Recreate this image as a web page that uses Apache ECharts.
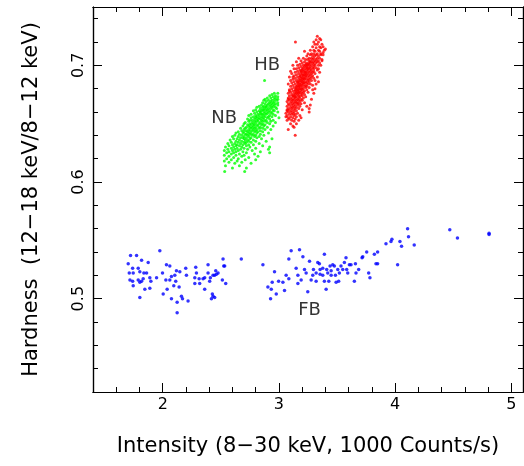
<!DOCTYPE html>
<html><head><meta charset="utf-8">
<script src="https://cdn.jsdelivr.net/npm/echarts@6/dist/echarts.min.js"></script>
<style>html,body{margin:0;padding:0;background:#fff}#c{width:524px;height:466px}</style>
</head><body><div id="c"></div>
<script>
const xMajorTicks = [2, 3, 4, 5];
const xMinorTicks = [1.6, 1.8, 2.2, 2.4, 2.6, 2.8, 3.2, 3.4, 3.6, 3.8, 4.2, 4.4, 4.6, 4.8];
const yMajorTicks = [0.5, 0.6, 0.7];
const yMinorTicks = [0.44, 0.46, 0.48, 0.52, 0.54, 0.56, 0.58, 0.62, 0.64, 0.66, 0.68, 0.72, 0.74];
const xTitle = 'Intensity (8\u221230 keV, 1000 Counts/s)';
const yTitle = 'Hardness  (12\u221218 keV/8\u221212 keV)';
const groupLabels = [[2.898, 0.700, 'HB'], [2.529, 0.655, 'NB'], [3.263, 0.490, 'FB']];

const hbPoints = [
[3.33,0.725],[3.35,0.723],[3.32,0.722],[3.36,0.722],[3.142,0.720],[3.34,0.720],[3.30,0.720],
[3.37,0.718],[3.33,0.718],[3.31,0.718],[3.35,0.716],[3.29,0.716],[3.38,0.716],[3.32,0.715],[3.36,0.715],
[3.27,0.713],[3.34,0.713],[3.30,0.713],[3.39,0.713],[3.31,0.712],[3.35,0.712],[3.22,0.712],
[3.28,0.710],[3.33,0.710],[3.36,0.710],[3.25,0.710],[3.30,0.710],[3.32,0.709],[3.27,0.709],[3.38,0.709],
[3.24,0.708],[3.29,0.708],[3.34,0.708],[3.31,0.708],
[3.26,0.706],[3.30,0.706],[3.35,0.706],[3.21,0.706],[3.28,0.706],[3.33,0.706],
[3.23,0.705],[3.29,0.705],[3.32,0.705],[3.37,0.705],[3.25,0.705],
[3.27,0.704],[3.31,0.704],[3.19,0.704],[3.34,0.704],
[3.22,0.703],[3.26,0.703],[3.30,0.703],[3.33,0.703],[3.28,0.703],
[3.20,0.702],[3.24,0.702],[3.29,0.702],[3.32,0.702],[3.35,0.702],[3.27,0.702],
[3.18,0.701],[3.23,0.701],[3.26,0.701],[3.30,0.701],[3.25,0.701],
[3.21,0.700],[3.25,0.700],[3.28,0.700],[3.31,0.700],[3.34,0.700],[3.16,0.700],[3.23,0.700],
[3.19,0.699],[3.24,0.699],[3.27,0.699],[3.30,0.699],[3.22,0.699],
[3.17,0.698],[3.21,0.698],[3.26,0.698],[3.29,0.698],[3.32,0.698],[3.24,0.698],
[3.20,0.697],[3.23,0.697],[3.27,0.697],[3.30,0.697],[3.15,0.697],[3.25,0.697],
[3.18,0.696],[3.22,0.696],[3.25,0.696],[3.28,0.696],[3.33,0.696],[3.20,0.696],
[3.16,0.695],[3.21,0.695],[3.24,0.695],[3.27,0.695],[3.30,0.695],[3.19,0.695],
[3.19,0.694],[3.23,0.694],[3.26,0.694],[3.29,0.694],[3.14,0.694],[3.22,0.694],
[3.17,0.693],[3.20,0.693],[3.25,0.693],[3.28,0.693],[3.31,0.693],[3.23,0.693],
[3.15,0.692],[3.19,0.692],[3.22,0.692],[3.24,0.692],[3.27,0.692],[3.21,0.692],
[3.18,0.691],[3.21,0.691],[3.26,0.691],[3.29,0.691],[3.13,0.691],[3.23,0.691],
[3.16,0.690],[3.20,0.690],[3.23,0.690],[3.25,0.690],[3.28,0.690],[3.18,0.690],
[3.14,0.689],[3.19,0.689],[3.22,0.689],[3.27,0.689],[3.30,0.689],[3.21,0.689],
[3.17,0.688],[3.20,0.688],[3.24,0.688],[3.26,0.688],[3.12,0.688],[3.22,0.688],
[3.15,0.687],[3.18,0.687],[3.21,0.687],[3.25,0.687],[3.28,0.687],[3.19,0.687],
[3.13,0.686],[3.17,0.686],[3.20,0.686],[3.23,0.686],[3.26,0.686],[3.16,0.686],
[3.16,0.685],[3.19,0.685],[3.22,0.685],[3.24,0.685],[3.11,0.685],[3.21,0.685],
[3.14,0.684],[3.18,0.684],[3.21,0.684],[3.25,0.684],[3.27,0.684],[3.17,0.684],
[3.12,0.683],[3.16,0.683],[3.19,0.683],[3.23,0.683],[3.20,0.683],
[3.15,0.682],[3.18,0.682],[3.22,0.682],[3.24,0.682],[3.10,0.682],[3.17,0.682],
[3.13,0.681],[3.17,0.681],[3.20,0.681],[3.23,0.681],[3.26,0.681],[3.15,0.681],
[3.11,0.680],[3.15,0.680],[3.19,0.680],[3.21,0.680],[3.18,0.680],
[3.14,0.679],[3.17,0.679],[3.20,0.679],[3.24,0.679],[3.09,0.679],[3.16,0.679],
[3.12,0.678],[3.16,0.678],[3.19,0.678],[3.22,0.678],[3.14,0.678],
[3.10,0.677],[3.15,0.677],[3.18,0.677],[3.21,0.677],[3.25,0.677],[3.17,0.677],
[3.13,0.676],[3.17,0.676],[3.20,0.676],[3.08,0.676],[3.15,0.676],
[3.11,0.675],[3.14,0.675],[3.19,0.675],[3.22,0.675],[3.16,0.675],
[3.09,0.674],[3.13,0.674],[3.17,0.674],[3.20,0.674],[3.12,0.674],
[3.12,0.673],[3.15,0.673],[3.18,0.673],[3.23,0.673],[3.14,0.673],
[3.10,0.672],[3.14,0.672],[3.17,0.672],[3.21,0.672],[3.08,0.672],
[3.13,0.671],[3.16,0.671],[3.19,0.671],[3.11,0.671],
[3.09,0.670],[3.12,0.670],[3.15,0.670],[3.20,0.670],[3.17,0.670],
[3.11,0.669],[3.14,0.669],[3.18,0.669],[3.07,0.669],
[3.10,0.668],[3.13,0.668],[3.16,0.668],[3.22,0.668],[3.15,0.668],
[3.08,0.667],[3.12,0.667],[3.17,0.667],[3.19,0.667],
[3.11,0.666],[3.14,0.666],[3.16,0.666],[3.09,0.666],
[3.07,0.665],[3.13,0.665],[3.18,0.665],[3.24,0.665],
[3.10,0.664],[3.12,0.664],[3.15,0.664],
[3.08,0.663],[3.14,0.663],[3.17,0.663],[3.11,0.663],
[3.09,0.662],[3.13,0.662],[3.20,0.662],
[3.07,0.661],[3.11,0.661],[3.15,0.661],
[3.10,0.660],[3.13,0.660],[3.26,0.660],[3.08,0.660],
[3.12,0.659],[3.16,0.659],[3.06,0.659],
[3.09,0.658],[3.11,0.658],[3.14,0.658],
[3.07,0.657],[3.13,0.657],[3.18,0.657],
[3.06,0.656],[3.10,0.656],[3.15,0.656],
[3.12,0.655],[3.19,0.655],[3.08,0.655],
[3.09,0.654],[3.14,0.654],
[3.11,0.653],[3.17,0.653],[3.07,0.653],
[3.13,0.652],[3.10,0.650],[3.15,0.650],
[3.12,0.648],[3.13,0.647],[3.08,0.645],[3.14,0.640],
[3.09,0.690],[3.10,0.695],[3.12,0.700],[3.08,0.684],[3.09,0.678],[3.08,0.671],[3.07,0.662],
[3.33,0.690],[3.35,0.694],[3.36,0.700],[3.37,0.704],[3.34,0.686],[3.31,0.680],[3.30,0.676],
[3.28,0.671],[3.27,0.666],[3.26,0.663],[3.32,0.684],[3.29,0.679],[3.38,0.711],[3.40,0.714],
[3.36,0.709],[3.11,0.693],[3.13,0.697],[3.15,0.703],[3.17,0.706],[3.29,0.683],[3.31,0.687],
[3.34,0.697],[3.10,0.687],[3.12,0.690]
];

const nbPoints = [
[2.876,0.687],
[2.99,0.676],[2.96,0.676],[2.94,0.675],[2.97,0.674],[2.92,0.674],[2.95,0.673],[2.99,0.673],
[2.90,0.672],[2.93,0.672],[2.97,0.672],[2.96,0.671],[2.88,0.671],[2.99,0.671],
[2.91,0.670],[2.94,0.670],[2.98,0.670],[2.87,0.670],[2.89,0.669],[2.93,0.669],[2.96,0.669],
[2.86,0.668],[2.92,0.668],[2.95,0.668],[2.99,0.668],[2.88,0.667],[2.91,0.667],[2.94,0.667],[2.97,0.667],
[2.85,0.666],[2.90,0.666],[2.93,0.666],[2.96,0.666],[2.99,0.666],
[2.83,0.665],[2.87,0.665],[2.92,0.665],[2.95,0.665],[2.89,0.665],
[2.86,0.664],[2.89,0.664],[2.94,0.664],[2.97,0.664],[2.81,0.664],
[2.84,0.663],[2.88,0.663],[2.91,0.663],[2.93,0.663],[2.98,0.663],
[2.80,0.662],[2.86,0.662],[2.90,0.662],[2.95,0.662],[2.87,0.662],
[2.83,0.661],[2.85,0.661],[2.89,0.661],[2.92,0.661],[2.96,0.661],[2.78,0.661],
[2.81,0.660],[2.87,0.660],[2.91,0.660],[2.94,0.660],[2.99,0.660],[2.84,0.660],
[2.79,0.659],[2.84,0.659],[2.88,0.659],[2.90,0.659],[2.93,0.659],
[2.76,0.658],[2.82,0.658],[2.86,0.658],[2.89,0.658],[2.95,0.658],[2.85,0.658],
[2.80,0.657],[2.83,0.657],[2.87,0.657],[2.92,0.657],[2.97,0.657],[2.74,0.657],
[2.78,0.656],[2.81,0.656],[2.85,0.656],[2.88,0.656],[2.91,0.656],[2.94,0.656],
[2.76,0.655],[2.83,0.655],[2.86,0.655],[2.90,0.655],[3.00,0.655],[2.80,0.655],
[2.73,0.654],[2.79,0.654],[2.84,0.654],[2.87,0.654],[2.92,0.654],[2.82,0.654],
[2.77,0.653],[2.81,0.653],[2.85,0.653],[2.89,0.653],[2.95,0.653],[2.75,0.653],
[2.74,0.652],[2.79,0.652],[2.82,0.652],[2.86,0.652],[2.88,0.652],[2.93,0.652],
[2.71,0.651],[2.77,0.651],[2.80,0.651],[2.84,0.651],[2.90,0.651],[2.97,0.651],
[2.75,0.650],[2.78,0.650],[2.83,0.650],[2.86,0.650],[2.92,0.650],[2.70,0.650],
[2.73,0.649],[2.76,0.649],[2.81,0.649],[2.85,0.649],[2.88,0.649],[2.79,0.649],
[2.69,0.648],[2.74,0.648],[2.78,0.648],[2.82,0.648],[2.87,0.648],[2.95,0.648],
[2.72,0.647],[2.77,0.647],[2.80,0.647],[2.84,0.647],[2.90,0.647],[2.75,0.647],
[2.67,0.646],[2.71,0.646],[2.76,0.646],[2.79,0.646],[2.83,0.646],[2.86,0.646],
[2.70,0.645],[2.74,0.645],[2.78,0.645],[2.81,0.645],[2.88,0.645],[2.93,0.645],
[2.68,0.644],[2.72,0.644],[2.77,0.644],[2.80,0.644],[2.84,0.644],[2.75,0.644],
[2.65,0.643],[2.70,0.643],[2.73,0.643],[2.79,0.643],[2.82,0.643],[2.86,0.643],
[2.69,0.642],[2.74,0.642],[2.76,0.642],[2.81,0.642],[2.91,0.642],[2.63,0.642],
[2.66,0.641],[2.71,0.641],[2.75,0.641],[2.78,0.641],[2.84,0.641],[2.72,0.641],
[2.62,0.640],[2.68,0.640],[2.73,0.640],[2.77,0.640],[2.80,0.640],[2.87,0.640],
[2.65,0.639],[2.70,0.639],[2.74,0.639],[2.79,0.639],[2.83,0.639],[2.60,0.639],
[2.67,0.638],[2.72,0.638],[2.76,0.638],[2.81,0.638],[2.69,0.638],
[2.61,0.637],[2.64,0.637],[2.70,0.637],[2.75,0.637],[2.85,0.637],[2.94,0.637],
[2.66,0.636],[2.71,0.636],[2.73,0.636],[2.78,0.636],[2.58,0.636],
[2.63,0.635],[2.68,0.635],[2.74,0.635],[2.80,0.635],[2.89,0.635],
[2.59,0.634],[2.65,0.634],[2.70,0.634],[2.76,0.634],[2.72,0.634],
[2.62,0.633],[2.67,0.633],[2.71,0.633],[2.83,0.633],[2.56,0.633],
[2.60,0.632],[2.64,0.632],[2.69,0.632],[2.74,0.632],[2.78,0.632],
[2.57,0.631],[2.66,0.631],[2.72,0.631],[2.86,0.631],[2.63,0.631],
[2.61,0.630],[2.68,0.630],[2.75,0.630],[2.54,0.630],[2.92,0.630],
[2.59,0.629],[2.64,0.629],[2.70,0.629],[2.80,0.629],
[2.56,0.628],[2.62,0.628],[2.67,0.628],[2.73,0.628],[2.91,0.628],
[2.60,0.627],[2.65,0.627],[2.77,0.627],[2.53,0.627],
[2.57,0.626],[2.63,0.626],[2.69,0.626],[2.84,0.626],
[2.55,0.625],[2.61,0.625],[2.72,0.625],[2.92,0.625],
[2.59,0.624],[2.66,0.624],[2.79,0.624],
[2.53,0.623],[2.63,0.623],[2.70,0.623],
[2.57,0.622],[2.68,0.622],[2.82,0.622],
[2.61,0.621],[2.74,0.621],[2.55,0.620],[2.65,0.620],
[2.59,0.619],[2.71,0.619],[2.80,0.619],[2.64,0.618],[2.53,0.618],
[2.57,0.617],[2.68,0.617],[2.62,0.616],[2.76,0.616],
[2.54,0.614],[2.66,0.614],[2.60,0.612],[2.72,0.612],
[2.533,0.609],[2.705,0.609]
];

const fbPoints = [
[1.703,0.530],[1.723,0.537],[1.775,0.537],[1.741,0.526],[1.789,0.526],[1.712,0.522],[1.746,0.522],
[1.818,0.533],[1.875,0.531],[1.803,0.523],[1.838,0.522],[1.861,0.522],[1.718,0.516],[1.741,0.515],
[1.789,0.516],[1.803,0.514],[1.818,0.515],[1.832,0.517],[1.746,0.511],[1.846,0.508],[1.803,0.501],
[1.889,0.509],[1.889,0.518],[1.898,0.515],[1.975,0.541],[1.947,0.518],[1.998,0.522],[2.032,0.529],
[2.061,0.528],[2.027,0.516],[2.061,0.516],[2.075,0.519],[2.104,0.520],[2.118,0.524],[2.147,0.523],
[2.112,0.515],[2.004,0.504],[2.038,0.508],[2.075,0.500],[2.095,0.511],[2.141,0.510],[2.124,0.497],
[2.161,0.502],[2.170,0.500],[2.198,0.526],[2.204,0.520],[2.124,0.488],[2.218,0.498],[2.284,0.527],
[2.290,0.522],[2.276,0.518],[2.313,0.517],[2.276,0.513],[2.318,0.513],[2.347,0.517],[2.361,0.518],
[2.361,0.508],[2.390,0.529],[2.390,0.522],[2.410,0.518],[2.433,0.520],[2.456,0.524],[2.447,0.520],
[2.404,0.515],[2.427,0.504],[2.447,0.501],[2.419,0.500],[2.433,0.502],[2.462,0.521],[2.476,0.522],
[2.513,0.516],[2.519,0.534],[2.525,0.528],[2.533,0.528],[2.542,0.513],[2.676,0.534],
[2.862,0.529],[2.905,0.510],[2.934,0.508],[2.928,0.500],[2.942,0.514],[2.962,0.523],[2.977,0.504],
[2.997,0.515],[3.034,0.514],[3.048,0.507],[3.062,0.520],[3.085,0.517],[3.085,0.534],[3.105,0.541],
[3.148,0.526],[3.163,0.520],[3.163,0.513],[3.177,0.542],[3.191,0.516],[3.206,0.536],[3.220,0.525],
[3.234,0.522],[3.248,0.506],[3.263,0.532],[3.277,0.516],[3.297,0.525],[3.291,0.520],[3.320,0.522],
[3.320,0.515],[3.334,0.531],[3.348,0.530],[3.354,0.525],[3.354,0.521],[3.377,0.526],[3.377,0.520],
[3.391,0.538],[3.391,0.515],[3.406,0.508],[3.411,0.525],[3.420,0.522],[3.429,0.515],[3.440,0.528],
[3.449,0.524],[3.449,0.520],[3.463,0.529],[3.477,0.528],[3.486,0.520],[3.492,0.514],[3.506,0.525],
[3.514,0.515],[3.520,0.522],[3.534,0.528],[3.549,0.525],[3.563,0.531],[3.577,0.535],[3.583,0.525],
[3.592,0.522],[3.606,0.529],[3.620,0.529],[3.649,0.515],[3.658,0.530],[3.663,0.522],[3.686,0.525],
[3.715,0.535],[3.721,0.536],[3.755,0.540],[3.772,0.522],[3.783,0.518],[3.821,0.538],[3.835,0.530],
[3.849,0.530],[3.849,0.540],[3.921,0.547],[3.964,0.549],[3.972,0.551],[4.021,0.529],[4.041,0.549],
[4.055,0.545],[4.107,0.560],[4.115,0.553],[4.164,0.546],[4.470,0.559],[4.536,0.552],[4.808,0.556],
[4.808,0.555]
];

const FONT = 'DejaVu Sans';
function xAxisDef(pos, ticks, len, withLabel) {
  return {
    type: 'value', position: pos, min: 1.4, max: 5.1,
    name: withLabel ? xTitle : '', nameLocation: 'middle', nameGap: 44,
    nameTextStyle: {fontFamily: FONT, fontSize: 21, color: '#000'},
    axisLine: {show: true, onZero: false, lineStyle: {color: '#000', width: 1.2}},
    axisTick: {show: true, inside: true, length: len, customValues: ticks, lineStyle: {color: '#000', width: 1}},
    axisLabel: {show: withLabel, customValues: ticks, margin: 5, fontFamily: FONT, fontSize: 16, color: '#000'},
    splitLine: {show: false}
  };
}
function yAxisDef(pos, ticks, len, withLabel) {
  return {
    type: 'value', position: pos, min: 0.42, max: 0.75,
    name: withLabel ? yTitle : '', nameLocation: 'middle', nameGap: 51,
    nameTextStyle: {fontFamily: FONT, fontSize: 21, color: '#000'},
    axisLine: {show: true, onZero: false, lineStyle: {color: '#000', width: 1.2}},
    axisTick: {show: true, inside: true, length: len, customValues: ticks, lineStyle: {color: '#000', width: 1}},
    axisLabel: {show: withLabel, customValues: ticks, rotate: 90, margin: 6, fontFamily: FONT, fontSize: 16, color: '#000',
      formatter: v => v.toFixed(1)},
    splitLine: {show: false}
  };
}

const chart = echarts.init(document.getElementById('c'), null, {renderer: 'canvas'});
chart.setOption({
  animation: false,
  backgroundColor: '#fff',
  grid: {left: 93, right: 1, top: 7, bottom: 74, containLabel: false},
  xAxis: [
    xAxisDef('bottom', xMajorTicks, 9, true),
    xAxisDef('bottom', xMinorTicks, 5, false),
    xAxisDef('top', xMajorTicks, 9, false),
    xAxisDef('top', xMinorTicks, 5, false)
  ],
  yAxis: [
    yAxisDef('left', yMajorTicks, 9, true),
    yAxisDef('left', yMinorTicks, 5, false),
    yAxisDef('right', yMajorTicks, 9, false),
    yAxisDef('right', yMinorTicks, 5, false)
  ],
  series: [
    {type: 'scatter', name: 'FB', data: fbPoints, symbol: 'circle', symbolSize: 3.5, itemStyle: {color: '#0000ff'}, silent: true},
    {type: 'scatter', name: 'NB', data: nbPoints, symbol: 'circle', symbolSize: 3, itemStyle: {color: '#00ff00'}, silent: true},
    {type: 'scatter', name: 'HB', data: hbPoints, symbol: 'circle', symbolSize: 3, itemStyle: {color: '#ff0000'}, silent: true},
    {type: 'scatter', name: 'labels', data: groupLabels, symbolSize: 0, silent: true,
     label: {show: true, position: 'inside', formatter: p => p.value[2], fontFamily: FONT, fontSize: 18, color: '#000'}}
  ]
});
</script></body></html>
